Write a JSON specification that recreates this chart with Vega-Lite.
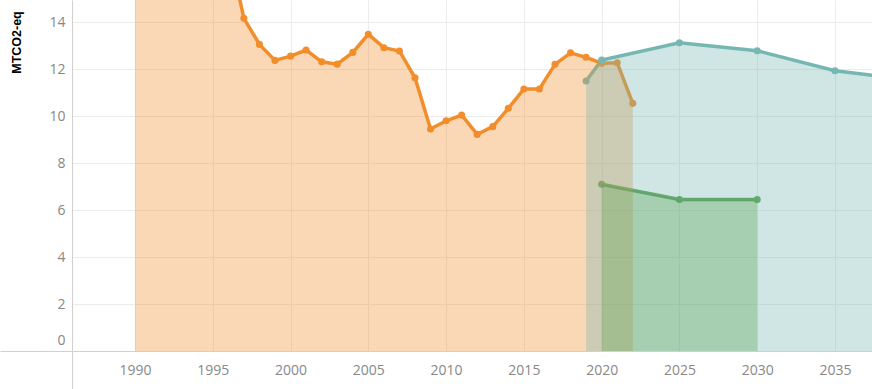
{
  "$schema": "https://vega.github.io/schema/vega-lite/v6.json",
  "width": 800,
  "height": 351,
  "autosize": {"type": "none"},
  "padding": {"left": 72, "top": 0, "right": 0, "bottom": 38},
  "background": "white",
  "config": {
    "view": {"stroke": null},
    "axis": {
      "labelFont": "Open Sans",
      "labelFontSize": 14,
      "labelColor": "#888888",
      "domainColor": "#d0d0d0",
      "domainWidth": 1,
      "gridColor": "#ececec",
      "gridWidth": 1
    }
  },
  "data": {
    "values": [
      {"series": "Historical", "year": 1990, "value": 17.5},
      {"series": "Historical", "year": 1991, "value": 17.8},
      {"series": "Historical", "year": 1992, "value": 17.3},
      {"series": "Historical", "year": 1993, "value": 17.0},
      {"series": "Historical", "year": 1994, "value": 17.2},
      {"series": "Historical", "year": 1995, "value": 17.4},
      {"series": "Historical", "year": 1996, "value": 17.2},
      {"series": "Historical", "year": 1997, "value": 14.16},
      {"series": "Historical", "year": 1998, "value": 13.05},
      {"series": "Historical", "year": 1999, "value": 12.37},
      {"series": "Historical", "year": 2000, "value": 12.55},
      {"series": "Historical", "year": 2001, "value": 12.81},
      {"series": "Historical", "year": 2002, "value": 12.31},
      {"series": "Historical", "year": 2003, "value": 12.21},
      {"series": "Historical", "year": 2004, "value": 12.71},
      {"series": "Historical", "year": 2005, "value": 13.48},
      {"series": "Historical", "year": 2006, "value": 12.91},
      {"series": "Historical", "year": 2007, "value": 12.77},
      {"series": "Historical", "year": 2008, "value": 11.63},
      {"series": "Historical", "year": 2009, "value": 9.45},
      {"series": "Historical", "year": 2010, "value": 9.8},
      {"series": "Historical", "year": 2011, "value": 10.04},
      {"series": "Historical", "year": 2012, "value": 9.22},
      {"series": "Historical", "year": 2013, "value": 9.55},
      {"series": "Historical", "year": 2014, "value": 10.33},
      {"series": "Historical", "year": 2015, "value": 11.15},
      {"series": "Historical", "year": 2016, "value": 11.15},
      {"series": "Historical", "year": 2017, "value": 12.2},
      {"series": "Historical", "year": 2018, "value": 12.69},
      {"series": "Historical", "year": 2019, "value": 12.5},
      {"series": "Historical", "year": 2020, "value": 12.25},
      {"series": "Historical", "year": 2021, "value": 12.27},
      {"series": "Historical", "year": 2022, "value": 10.54},
      {"series": "Projection", "year": 2019, "value": 11.49},
      {"series": "Projection", "year": 2020, "value": 12.38},
      {"series": "Projection", "year": 2025, "value": 13.12},
      {"series": "Projection", "year": 2030, "value": 12.78},
      {"series": "Projection", "year": 2035, "value": 11.93},
      {"series": "Projection", "year": 2040, "value": 11.53},
      {"series": "Target", "year": 2020, "value": 7.1},
      {"series": "Target", "year": 2025, "value": 6.45},
      {"series": "Target", "year": 2030, "value": 6.45}
    ]
  },
  "encoding": {
    "x": {
      "field": "year",
      "type": "quantitative",
      "scale": {"domain": [1985.95, 2037.38], "nice": false, "zero": false},
      "axis": {
        "title": null,
        "values": [1985.95, 1990, 1995, 2000, 2005, 2010, 2015, 2020, 2025, 2030, 2035],
        "labelExpr": "datum.value < 1988 ? '' : format(datum.value, 'd')",
        "grid": true,
        "tickSize": 38,
        "tickColor": {"condition": {"test": "datum.value < 1988", "value": "#d0d0d0"}, "value": "transparent"},
        "labelPadding": -26,
        "labelFlush": false,
        "labelOverlap": false
      }
    },
    "y": {
      "field": "value",
      "type": "quantitative",
      "stack": null,
      "scale": {"domain": [0, 14.94], "nice": false},
      "axis": {
        "title": "MTCO2-eq",
        "titleFont": "Liberation Sans",
        "titleFontSize": 12.5,
        "titleFontWeight": "bold",
        "titleColor": "#000000",
        "titleAngle": 270,
        "titleAlign": "center",
        "titleBaseline": "middle",
        "titleX": -56,
        "titleY": 42,
        "values": [0, 2, 4, 6, 8, 10, 12, 14],
        "grid": true,
        "tickSize": 72,
        "tickColor": {"condition": {"test": "datum.value == 0", "value": "#d0d0d0"}, "value": "transparent"},
        "labelPadding": -65,
        "labelFlush": true,
        "labelFlushOffset": -4
      }
    },
    "color": {
      "field": "series",
      "type": "nominal",
      "scale": {"domain": ["Historical", "Projection", "Target"], "range": ["#F28E2B", "#76B7B2", "#59A14F"]},
      "legend": null
    }
  },
  "layer": [
    {"mark": {"type": "line", "strokeWidth": 3.5, "clip": true}},
    {"mark": {"type": "point", "filled": true, "size": 50, "opacity": 1, "clip": true}},
    {"mark": {"type": "area", "opacity": 0.35, "clip": true}}
  ]
}
